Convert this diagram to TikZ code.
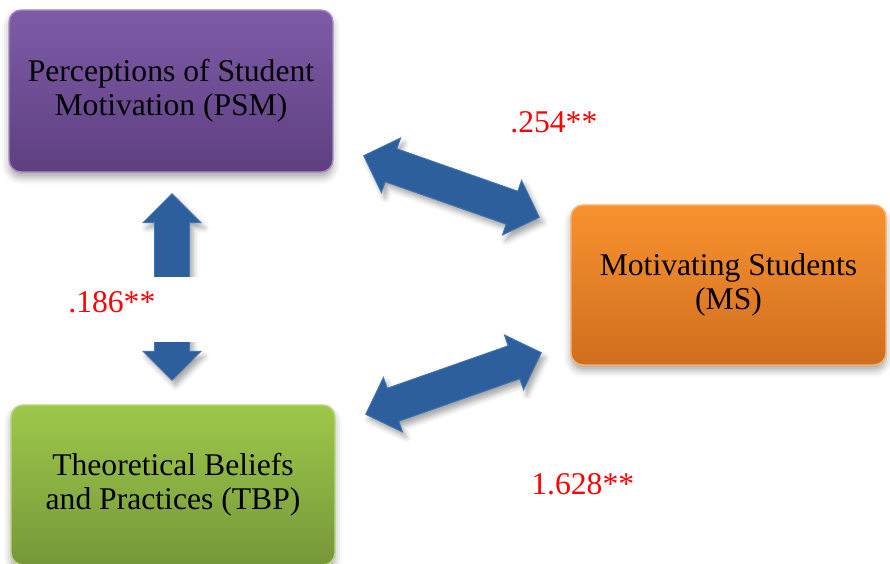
\documentclass[tikz,border=0pt]{standalone}
\usepackage{fontspec}
\setmainfont{Liberation Serif}
\usetikzlibrary{calc}
\usetikzlibrary{shadows.blur}

\definecolor{psmtop}{HTML}{7E5BA8}
\definecolor{psmbot}{HTML}{5E4080}
\definecolor{mstop}{HTML}{F8922F}
\definecolor{msbot}{HTML}{D06E1F}
\definecolor{tbptop}{HTML}{9DC84A}
\definecolor{tbpbot}{HTML}{77973A}
\definecolor{arrowblue}{HTML}{2D5F9C}
\definecolor{arrowedge}{HTML}{4275B3}

% sizes of the fat double arrows
\def\headlen{0.58cm}
\def\headhalf{0.58cm}
\def\shafthalf{0.35cm}

\newcommand{\fatarrow}[2]{%
  \draw[bluearrow] (#1)
    -- ($(#1)!\headlen!(#2)!\headhalf!90:(#2)$)
    -- ($(#1)!\headlen!(#2)!\shafthalf!90:(#2)$)
    -- ($(#2)!\headlen!(#1)!\shafthalf!-90:(#1)$)
    -- ($(#2)!\headlen!(#1)!\headhalf!-90:(#1)$)
    -- (#2)
    -- ($(#2)!\headlen!(#1)!\headhalf!90:(#1)$)
    -- ($(#2)!\headlen!(#1)!\shafthalf!90:(#1)$)
    -- ($(#1)!\headlen!(#2)!\shafthalf!-90:(#2)$)
    -- ($(#1)!\headlen!(#2)!\headhalf!-90:(#2)$)
    -- cycle;}

\tikzset{
  box/.style={rounded corners=0.24cm, align=center, line width=0.8pt,
    font=\fontsize{18}{19.6}\selectfont,
    blur shadow={shadow xshift=0pt, shadow yshift=-3pt,
      shadow blur radius=4pt, shadow opacity=35}},
  bluearrow/.style={fill=arrowblue, draw=arrowedge, line width=0.5pt,
    line join=miter,
    blur shadow={shadow xshift=2pt, shadow yshift=-3pt,
      shadow blur radius=3pt, shadow opacity=35}},
  coef/.style={text=red, inner sep=0pt, font=\fontsize{18}{19}\selectfont}
}

\begin{document}
\begin{tikzpicture}[x=0.02cm, y=-0.02cm]
   \useasboundingbox (0,0) rectangle (890,564);

   % the three boxes
   \node [box, top color=psmtop, bottom color=psmbot, draw=psmtop!70!white,
          minimum width=6.48cm, minimum height=3.24cm] (psm) at (171,91)
         {Perceptions of Student\\Motivation (PSM)};
   \node [box, top color=mstop, bottom color=msbot, draw=mstop!70!white,
          minimum width=6.3cm, minimum height=3.2cm] (ms) at (728.5,285)
         {Motivating Students\\(MS)};
   \node [box, top color=tbptop, bottom color=tbpbot, draw=tbptop!70!white,
          minimum width=6.48cm, minimum height=3.2cm] (tbp) at (173,485)
         {Theoretical Beliefs\\and Practices (TBP)};

   % arrow ends
   \coordinate (psm-ms-a) at ($(psm.south east)+(30,-17)$);
   \coordinate (psm-ms-b) at ($(ms.north west)+(-31,13)$);
   \coordinate (tbp-ms-a) at ($(tbp.north east)+(30,10)$);
   \coordinate (tbp-ms-b) at ($(ms.south west)+(-29,-13)$);
   \coordinate (psm-tbp-a) at ($(psm.south)+(1,21)$);
   \coordinate (psm-tbp-b) at ($(tbp.north)+(-1,-24)$);

   \fatarrow{psm-ms-a}{psm-ms-b}
   \fatarrow{tbp-ms-a}{tbp-ms-b}
   \fatarrow{psm-tbp-a}{psm-tbp-b}

   % coefficients
   \node [coef, anchor=base west] (c-psm-ms) at (510,133) {.254**};
   \node [coef, anchor=base west] (c-tbp-ms) at (531,495) {1.628**};
   \node [coef, anchor=base west, fill=white, inner xsep=0.16cm,
          text width=2.6cm, text height=0.72cm, text depth=0.58cm]
         (c-psm-tbp) at (60,313) {.186**};
\end{tikzpicture}
\end{document}
